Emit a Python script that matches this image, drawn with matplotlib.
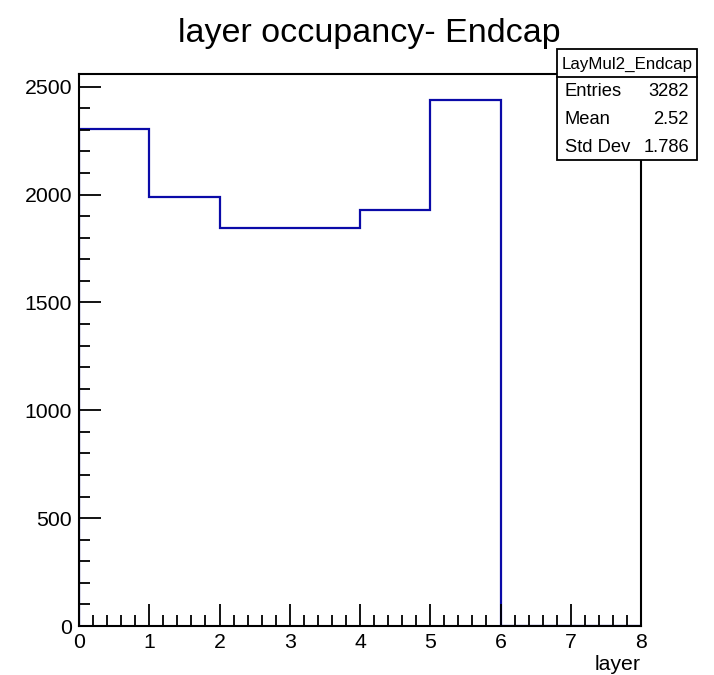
import matplotlib
matplotlib.use("Agg")
import matplotlib.pyplot as plt
from matplotlib.patches import Rectangle
from matplotlib.lines import Line2D
from matplotlib.ticker import MultipleLocator

plt.rcParams['font.family'] = ['Liberation Sans', 'DejaVu Sans']

# Data
bin_edges = [0, 1, 2, 3, 4, 5, 6, 7, 8]
counts = [2303, 1989, 1843, 1846, 1929, 2439, 0, 0]
title = "layer occupancy- Endcap"
xlabel = "layer"
stats_name = "LayMul2_Endcap"
stats_rows = [("Entries", "3282"), ("Mean", "2.52"), ("Std Dev", "1.786")]

W, H = 714, 675
fig = plt.figure(figsize=(W / 100, H / 100), dpi=100)

def fx(px):
    return px / W

def fy(py):
    return 1 - py / H

left, right, top, bottom = 79, 641, 74, 626
ax = fig.add_axes([fx(left), fy(bottom), fx(right) - fx(left), fy(top) - fy(bottom)])

line_color = '#0a0aa8'
ax.stairs(counts, bin_edges, color=line_color, linewidth=1.6, baseline=0)

ax.set_xlim(0, 8)
ax.set_ylim(0, 2559)
ax.xaxis.set_major_locator(MultipleLocator(1))
ax.xaxis.set_minor_locator(MultipleLocator(0.2))
ax.yaxis.set_major_locator(MultipleLocator(500))
ax.yaxis.set_minor_locator(MultipleLocator(100))
ax.tick_params(which='both', direction='in', top=False, right=False, width=1.3, labelsize=15.3)
ax.tick_params(which='major', length=16, pad=5)
ax.tick_params(which='minor', length=8)
for s in ax.spines.values():
    s.set_linewidth(1.5)

# Title
fig.text(fx(369.5), fy(42), title, fontsize=24.5, ha='center', va='baseline')
# x label
fig.text(fx(641), fy(670), xlabel, fontsize=15.3, ha='right', va='baseline')

# Stats box
bx0, bx1, by0, by1, bdiv = 557, 697, 49, 160, 77
fig.patches.append(Rectangle((fx(bx0), fy(by1)), fx(bx1) - fx(bx0), fy(by0) - fy(by1),
                             transform=fig.transFigure, facecolor='white', edgecolor='black',
                             linewidth=1.3, zorder=10))
fig.lines.append(Line2D([fx(bx0), fx(bx1)], [fy(bdiv), fy(bdiv)], transform=fig.transFigure,
                        color='black', linewidth=1.3, zorder=11))
fig.text(fx((bx0 + bx1) / 2), fy(64), stats_name, fontsize=12.2, ha='center', va='center', zorder=12)
row_y = [92, 120, 147]
for (k, v), y in zip(stats_rows, row_y):
    fig.text(fx(565), fy(y), k, fontsize=13.2, ha='left', va='center', zorder=12)
    fig.text(fx(689), fy(y), v, fontsize=13.2, ha='right', va='center', zorder=12)

fig.savefig("out.png", dpi=100)
